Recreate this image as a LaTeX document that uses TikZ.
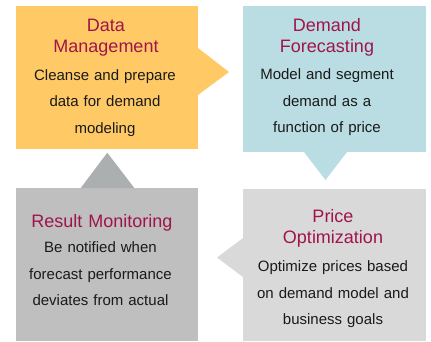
\documentclass[tikz,border=0pt]{standalone}
\usepackage{fontspec}
\setmainfont{Liberation Sans}
\definecolor{cYellow}{RGB}{255,201,102}
\definecolor{cBlue}{RGB}{185,221,226}
\definecolor{cLight}{RGB}{217,217,217}
\definecolor{cDark}{RGB}{191,191,191}
\definecolor{cArrowUp}{RGB}{172,175,176}
\definecolor{cTitle}{RGB}{160,20,75}
\definecolor{cBody}{RGB}{26,26,26}
\begin{document}
\begin{tikzpicture}[x=1pt,y=-1pt,
  panel/.style={draw=none,inner sep=0,outer sep=0},
  title/.style={anchor=base,inner sep=0,text width=180pt,align=center,
    text=cTitle,font=\fontsize{18}{21}\selectfont},
  body/.style={anchor=base,inner sep=0,text width=180pt,align=center,
    text=cBody,font=\fontsize{15}{26.6}\selectfont}]
\useasboundingbox (0,0) rectangle (431,341);

% panels
\path[fill=cYellow] (16,6) rectangle (198,149);
\node[panel,minimum width=182pt,minimum height=143pt] (dm) at (107,77.5) {};
\path[fill=cBlue] (243,6) rectangle (426,152);
\node[panel,minimum width=183pt,minimum height=146pt] (df) at (334.5,79) {};
\path[fill=cLight] (243,189) rectangle (426,341);
\node[panel,minimum width=183pt,minimum height=152pt] (po) at (334.5,265) {};
\path[fill=cDark] (16,188) rectangle (198,341);
\node[panel,minimum width=182pt,minimum height=153pt] (rm) at (107,264.5) {};

% pointers between the steps
\fill[cYellow] (198,48) -- (229,72) -- (198,95) -- cycle;
\fill[cBlue] (304,152) -- (325.5,180) -- (347,152) -- cycle;
\fill[cLight] (243,238) -- (217,257.5) -- (243,277) -- cycle;
\fill[cArrowUp] (80.7,188) -- (107.3,152.7) -- (134.3,188) -- cycle;

% Data Management
\node[title] (dmt) at (106,31) {Data\\Management};
\node[body] (dmb) at (105,80) {Cleanse and prepare\\data for demand\\modeling};

% Demand Forecasting
\node[title] (dft) at (327,31) {Demand\\Forecasting};
\node[body] (dfb) at (327,79.5) {Model and segment\\demand as a\\function of price};

% Price Optimization
\node[title] (pot) at (333,222.5) {Price\\Optimization};
\node[body] (pob) at (333,271.5) {Optimize prices based\\on demand model and\\business goals};

% Result Monitoring
\node[title] (rmt) at (102,227.3) {Result Monitoring};
\node[body] (rmb) at (100.5,252.7) {Be notified when\\forecast performance\\deviates from actual};
\end{tikzpicture}
\end{document}
